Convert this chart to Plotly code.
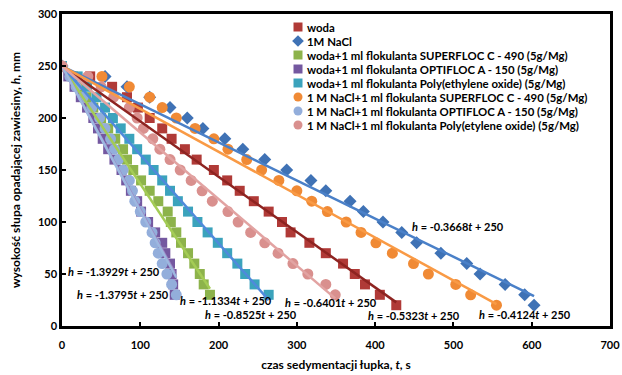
import plotly.graph_objects as go

heights_full = [250, 240, 230, 220, 210, 200, 190, 180, 170, 160, 150, 140, 130, 120,
                110, 100, 90, 80, 70, 60, 50, 40, 30, 20]

names = [
    "woda",
    "1M NaCl",
    "woda+1 ml flokulanta SUPERFLOC C - 490 (5g/Mg)",
    "woda+1 ml flokulanta OPTIFLOC A - 150 (5g/Mg)",
    "woda+1 ml flokulanta Poly(ethylene oxide) (5g/Mg)",
    "1 M NaCl+1 ml flokulanta SUPERFLOC C - 490 (5g/Mg)",
    "1 M NaCl+1 ml flokulanta OPTIFLOC A - 150 (5g/Mg)",
    "1 M NaCl+1 ml flokulanta Poly(etylene oxide) (5g/Mg)",
]

t_woda = [0, 36, 64, 83, 97, 112, 128, 140, 157, 172, 194, 211, 227, 245, 264, 281,
          292, 316, 337, 359, 374, 387, 406, 427]
t_nacl = [0, 55, 83, 112, 138, 160, 180, 208, 231, 259, 287, 318, 337, 368, 385, 410,
          434, 453, 484, 517, 534, 566, 591, 603]
t_woda_superfloc = [0, 14, 22, 31, 40, 50, 59, 68, 78, 83, 91, 101, 112, 123, 135, 139,
                    146, 152, 161, 169, 176, 181, 189]
t_woda_optifloc = [0, 8, 16, 24, 32, 40, 46, 52, 59, 67, 76, 82, 88, 96, 101, 110,
                   119, 128, 132, 138, 140, 142, 144]
t_woda_peo = [0, 20, 32, 44, 55, 65, 75, 86, 96, 107, 117, 128, 138, 148, 161, 173,
              186, 199, 211, 224, 234, 246, 264]
t_nacl_superfloc = [0, 51, 86, 112, 128, 146, 170, 194, 212, 236, 255, 277, 300, 319,
                    339, 363, 382, 401, 422, 449, 468, 503, 522, 555]
t_nacl_optifloc = [0, 10, 18, 27, 38, 48, 55, 62, 67, 72, 78, 86, 90, 93, 100, 107,
                   115, 119, 123, 128, 134, 140, 146]
t_nacl_peo = [0, 33, 50, 66, 86, 96, 104, 116, 125, 138, 151, 165, 179, 192, 212, 225,
              241, 259, 276, 295, 314, 337, 349]

times = [t_woda, t_nacl, t_woda_superfloc, t_woda_optifloc, t_woda_peo,
         t_nacl_superfloc, t_nacl_optifloc, t_nacl_peo]

slopes = [-0.5323, -0.3668, -1.1334, -1.3795, -0.8525, -0.4124, -1.3929, -0.6401]
intercept = 250

# equation label positions (t, h)
label_pos = [(450, 10.5), (506, 96), (209, 24.5), (78, 30), (241, 11.5),
             (591, 11.5), (67, 52), (344, 23)]

marker_colors = ["#B03A37", "#3F72B5", "#8DB34B", "#7458A0", "#3BA3BC",
                 "#F08A35", "#93AEDB", "#D9908E"]
line_colors = ["#8E2421", "#4A80C8", "#A4CC55", "#9C86C2", "#4F8ADB",
               "#F99A45", "#9DB8E0", "#E2A3A2"]
symbols = ["square", "diamond", "square", "square", "square",
           "circle", "circle", "circle"]
sizes = [10, 10, 10, 10, 10, 11, 11, 11]

fig = go.Figure()

for name, ts, col, sym, sz in zip(names, times, marker_colors, symbols, sizes):
    hs = heights_full[:len(ts)]
    fig.add_trace(go.Scatter(
        x=ts, y=hs, mode="markers", name=name, showlegend=False,
        marker=dict(symbol=sym, size=sz, color=col, line=dict(width=0)),
    ))

for ts, slope, lc in zip(times, slopes, line_colors):
    tmax = max(ts)
    fig.add_trace(go.Scatter(
        x=[0, tmax], y=[intercept, intercept + slope * tmax], mode="lines",
        line=dict(color=lc, width=2.5), showlegend=False, hoverinfo="skip",
    ))

for slope, (lx, ly) in zip(slopes, label_pos):
    txt = "<b><i>h</i> = %.4f<i>t</i> + 250</b>" % slope
    fig.add_annotation(x=lx, y=ly, text=txt, showarrow=False,
                       font=dict(family="Lato", size=11, color="black"))

# manual legend on a pixel-like overlay axis pair
leg_x_marker = 298
leg_x_text = 305
leg_y0 = 27
leg_dy = 14
for i, (name, col, sym) in enumerate(zip(names, marker_colors, symbols)):
    yy = leg_y0 + i * leg_dy
    fig.add_trace(go.Scatter(
        x=[leg_x_marker], y=[yy], xaxis="x2", yaxis="y2", mode="markers",
        showlegend=False, hoverinfo="skip",
        marker=dict(symbol=sym, size=9, color=col, line=dict(width=0)),
    ))
    fig.add_annotation(x=leg_x_text, y=yy, xref="x2", yref="y2", text="<b>%s</b>" % name,
                       showarrow=False, xanchor="left", yanchor="middle",
                       font=dict(family="Lato", size=11.4, color="black"))

fig.update_layout(
    width=622, height=375,
    margin=dict(l=62, r=12, t=14, b=49, autoexpand=False),
    paper_bgcolor="white", plot_bgcolor="white",
    font=dict(family="Lato", color="black"),
    showlegend=False,
    xaxis=dict(range=[0, 700], dtick=100, showgrid=False, zeroline=False,
               showline=True, linecolor="black", linewidth=2.5, mirror=True,
               ticks="inside", ticklen=4, tickwidth=2, tickcolor="black",
               tickfont=dict(size=11, family="Lato"), automargin=False,
               ticklabelstandoff=7,
               tickprefix="<b>", ticksuffix="</b>",
               title=dict(text="<b>czas sedymentacji łupka, <i>t</i>, s</b>",
                          font=dict(size=12, family="Lato"), standoff=11)),
    yaxis=dict(range=[0, 300], dtick=50, showgrid=False, zeroline=False,
               showline=True, linecolor="black", linewidth=2.5, mirror=True,
               ticks="inside", ticklen=4, tickwidth=2, tickcolor="black",
               tickfont=dict(size=11, family="Lato"), automargin=False,
               tickprefix="<b>", ticksuffix="</b>",
               title=dict(text="<b>wysokość słupa opadającej zawiesiny, <i>h</i>, mm</b>",
                          font=dict(size=12, family="Lato"))),
    xaxis2=dict(range=[62, 610], overlaying="x", visible=False, fixedrange=True),
    yaxis2=dict(range=[326, 14], overlaying="y", visible=False, fixedrange=True),
)

fig.write_html("out.html", config={"displayModeBar": False},
               post_script="document.body.style.margin='0';document.body.style.overflow='hidden';")
